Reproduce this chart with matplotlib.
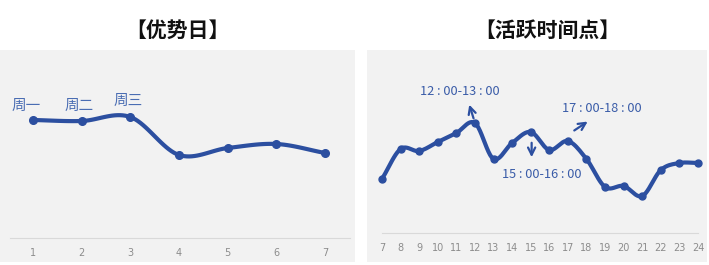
import numpy as np
import matplotlib
matplotlib.use("Agg")
import matplotlib.pyplot as plt
from matplotlib.patches import Rectangle

plt.rcParams['font.family'] = ['Noto Sans CJK SC', 'DejaVu Sans']

# 优势日
days = [1, 2, 3, 4, 5, 6, 7]
day_vals = [118, 117, 121, 83, 90, 94, 85]
day_labels = ['周一', '周二', '周三']

# 活跃时间点
hours = list(range(7, 25))
hour_vals = [54, 84, 82, 91, 100, 110, 74, 90, 101, 83, 92, 74, 46, 47, 37, 63, 70, 70]

LINE = '#2c4fa0'
TXT = '#3a5ca8'
BG = '#f2f2f2'
W, H = 709, 265


def smooth(x, y, n=20):
    # catmull-rom curve through the points, just for the look of the line
    x = np.asarray(x, float)
    y = np.asarray(y, float)
    px = np.concatenate([[2 * x[0] - x[1]], x, [2 * x[-1] - x[-2]]])
    py = np.concatenate([[2 * y[0] - y[1]], y, [2 * y[-1] - y[-2]]])
    xs, ys = [], []
    t = np.linspace(0, 1, n)
    for i in range(1, len(px) - 2):
        for arr, out in ((px, xs), (py, ys)):
            p0, p1, p2, p3 = arr[i - 1], arr[i], arr[i + 1], arr[i + 2]
            out.extend(0.5 * ((2 * p1) + (-p0 + p2) * t
                              + (2 * p0 - 5 * p1 + 4 * p2 - p3) * t ** 2
                              + (-p0 + 3 * p1 - 3 * p2 + p3) * t ** 3))
    return np.array(xs), np.array(ys)


def rect(l, t, r, b):
    return [l / W, (H - b) / H, (r - l) / W, (b - t) / H]


fig = plt.figure(figsize=(7.09, 2.65), dpi=100)

# gray panels
for l, r in [(0, 355), (367, 707)]:
    fig.patches.append(Rectangle((l / W, (H - 262) / H), (r - l) / W, (262 - 50) / H,
                                 transform=fig.transFigure, facecolor=BG,
                                 edgecolor='none', zorder=-5))

fig.text(177 / W, 1 - 30 / H, '【优势日】', ha='center', va='center',
         fontsize=15, fontweight='bold', color='#111111')
fig.text(547 / W, 1 - 30 / H, '【活跃时间点】', ha='center', va='center',
         fontsize=15, fontweight='bold', color='#111111')


def style(ax, xt):
    ax.set_facecolor('none')
    for s in ['top', 'left', 'right']:
        ax.spines[s].set_visible(False)
    ax.spines['bottom'].set_color('#d9d9d9')
    ax.spines['bottom'].set_linewidth(0.8)
    ax.set_yticks([])
    ax.set_xticks(xt)
    ax.tick_params(axis='x', length=0, pad=7, labelsize=7, labelcolor='#8c8c8c')
    for lab in ax.get_xticklabels():
        lab.set_family('DejaVu Sans')


# left chart
ax1 = fig.add_axes(rect(10, 50, 350, 238))
sx, sy = smooth(days, day_vals)
ax1.plot(sx, sy, color=LINE, lw=3, solid_capstyle='round', clip_on=False)
ax1.plot(days, day_vals, 'o', color=LINE, ms=5.5, clip_on=False)
ax1.set_xlim(0.53, 7.51)
ax1.set_ylim(0, 188)
style(ax1, days)
lab_pos = [(0.86, 132), (1.95, 132), (2.95, 137)]
for (lx, ly), lab in zip(lab_pos, day_labels):
    ax1.text(lx, ly, lab, ha='center', va='center', fontsize=10.5, color='#4a6db3')

# right chart
ax2 = fig.add_axes(rect(382, 50, 698, 233))
sx, sy = smooth(hours, hour_vals, n=12)
ax2.plot(sx, sy, color=LINE, lw=3, solid_capstyle='round', clip_on=False)
ax2.plot(hours, hour_vals, 'o', color=LINE, ms=5, clip_on=False)
ax2.set_xlim(7, 24)
ax2.set_ylim(0, 183)
style(ax2, hours)

arrow = dict(arrowstyle='->', color=LINE, lw=1.6, mutation_scale=13)
note = dict(ha='center', va='center', fontsize=9.2, color=TXT)
ax2.annotate('', xy=(11.65, 131), xytext=(11.97, 112), arrowprops=arrow)
ax2.text(11.2, 142, '12 : 00-13 : 00', **note)
ax2.annotate('', xy=(15.05, 73), xytext=(15.05, 93), arrowprops=arrow)
ax2.text(15.6, 58, '15 : 00-16 : 00', **note)
ax2.annotate('', xy=(18.19, 113), xytext=(17.22, 101), arrowprops=arrow)
ax2.text(18.8, 124, '17 : 00-18 : 00', **note)

fig.savefig('out.png', dpi=100)
